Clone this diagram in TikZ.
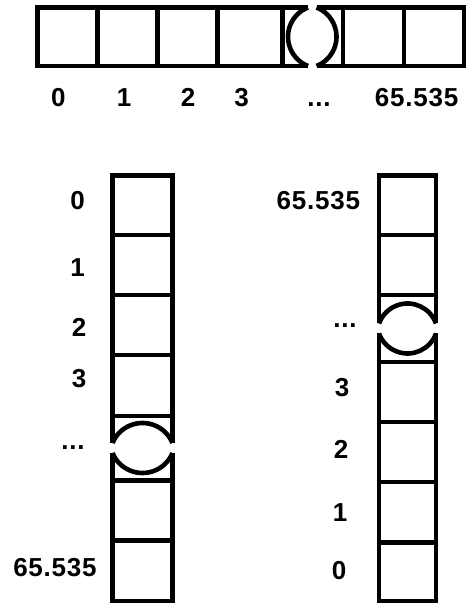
\documentclass[tikz,border=0pt]{standalone}
\usepackage{fontspec}
\newfontfamily\idxfont{Liberation Sans}[LetterSpace=3]
\usepackage{tikz}
\newcommand{\skipdots}{...}

\begin{document}
\begin{tikzpicture}[
    x=1pt, y=1pt,
    frame/.style={draw, line width=4.6pt},
    idx/.style={anchor=base, inner sep=0pt, font=\idxfont\bfseries\fontsize{26}{30}\selectfont}
]
    \useasboundingbox (0,0) rectangle (472,608);

    % Horizontal array
    \draw[frame] (308,542) -- (37.5,542) -- (37.5,600.5) -- (308,600.5);
    \draw[frame] (316.5,600.5) -- (464,600.5) -- (464,542) -- (316.5,542);
    \draw[frame] (308,600.5) arc[start angle=111.3, end angle=248.7, radius=31.4];
    \draw[frame] (316.5,542) arc[start angle=-68.7, end angle=68.7, radius=31.4];
    \foreach \x in {97.5,157.5,217.5,282.5,343,404}
        \draw[frame] (\x,542) -- (\x,600.5);

    \foreach \x/\t [count=\i] in {58.3/0, 124/1, 188/2, 241.7/3, 319/\skipdots, 416.7/65.535}
        \node[idx] (top\i) at (\x,501.3) {\t};

    % Left column (0 at the top)
    \draw[frame] (112.5,165) -- (112.5,432.5) -- (172.5,432.5) -- (172.5,165);
    \draw[frame] (112.5,155) -- (112.5,7) -- (172.5,7) -- (172.5,155);
    \draw[frame] (172.5,165) arc[start angle=22.6, end angle=157.4, radius=32.5];
    \draw[frame] (172.5,155) arc[start angle=-22.6, end angle=-157.4, radius=32.5];
    \foreach \y in {373,313,253,192,127.5,67.5}
        \draw[frame] (112.5,\y) -- (172.5,\y);

    \foreach \x/\y/\t [count=\i] in {77.5/398/0, 77.5/331.3/1, 79/271.3/2, 79/220/3, 73/158/\skipdots, 55/31.3/65.535}
        \node[idx] (left\i) at (\x,\y) {\t};

    % Right column (0 at the bottom)
    \draw[frame] (379,284.5) -- (379,432.5) -- (436,432.5) -- (436,284.5);
    \draw[frame] (379,274.5) -- (379,7) -- (436,7) -- (436,274.5);
    \draw[frame] (436,284.5) arc[start angle=19.9, end angle=160.1, radius=30.3];
    \draw[frame] (436,274.5) arc[start angle=-19.9, end angle=-160.1, radius=30.3];
    \foreach \y in {373,313,246,186,126,65.5}
        \draw[frame] (379,\y) -- (436,\y);

    \foreach \x/\y/\t [count=\i] in {318.3/398/65.535, 345/280/\skipdots, 342/211.3/3, 341/149.7/2, 340/86.3/1, 339/28/0}
        \node[idx] (right\i) at (\x,\y) {\t};
\end{tikzpicture}
\end{document}
